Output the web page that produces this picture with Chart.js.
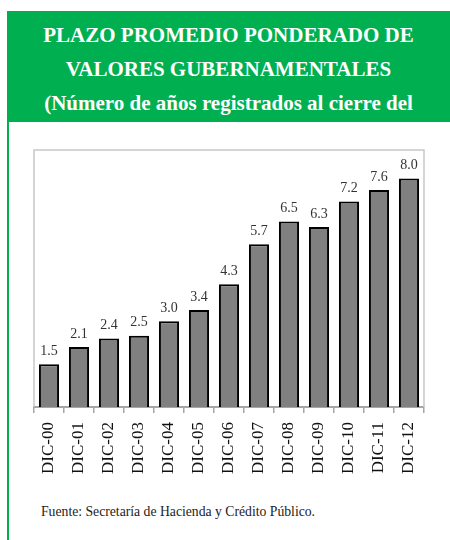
<!DOCTYPE html>
<html>
<head>
<meta charset="utf-8">
<script src="https://cdn.jsdelivr.net/npm/chart.js@4"></script>
<style>
  html, body { margin: 0; padding: 0; background: #fff; }
  body { width: 450px; height: 540px; position: relative; overflow: hidden; font-family: "Liberation Serif", serif; }
  #header {
    position: absolute; left: 7px; top: 11px; width: 443px; height: 111px;
    background: #00b050; color: #fff; font-weight: bold; font-size: 21px;
    font-family: "Liberation Serif", "DejaVu Serif", serif;
    text-align: center; line-height: 34px; padding-top: 7px; box-sizing: border-box;
  }
  #leftLine { position: absolute; left: 7px; top: 122px; width: 2px; height: 418px; background: #00b050; }
  #wrap { position: absolute; left: 0; top: 130px; width: 450px; height: 353px; }
  #source { position: absolute; left: 41px; top: 504px; font-size: 13.7px; color: #222; }
</style>
</head>
<body>
<div id="header">PLAZO PROMEDIO PONDERADO DE<br>VALORES GUBERNAMENTALES<br>(Número de años registrados al cierre del</div>
<div id="leftLine"></div>
<div id="wrap"><canvas id="chart"></canvas></div>
<div id="source">Fuente: Secretaría de Hacienda y Crédito Público.</div>
<script>
const categories = ['DIC-00', 'DIC-01', 'DIC-02', 'DIC-03', 'DIC-04', 'DIC-05', 'DIC-06',
  'DIC-07', 'DIC-08', 'DIC-09', 'DIC-10', 'DIC-11', 'DIC-12'];
const plazoAnios = [1.5, 2.1, 2.4, 2.5, 3.0, 3.4, 4.3, 5.7, 6.5, 6.3, 7.2, 7.6, 8.0];

// frame around the plot area
const boxPlugin = {
  id: 'box',
  beforeDatasetsDraw(chart) {
    const { ctx, chartArea: a } = chart;
    ctx.save();
    ctx.strokeStyle = '#c8c8c8';
    ctx.lineWidth = 1.5;
    ctx.beginPath();
    ctx.moveTo(a.left, a.bottom);
    ctx.lineTo(a.left, a.top);
    ctx.lineTo(a.right, a.top);
    ctx.lineTo(a.right, a.bottom);
    ctx.stroke();
    ctx.restore();
  }
};

// value labels over the bars
const valueLabels = {
  id: 'valueLabels',
  afterDatasetsDraw(chart) {
    const { ctx } = chart;
    const meta = chart.getDatasetMeta(0);
    ctx.save();
    ctx.font = '14px "Liberation Serif"';
    ctx.fillStyle = '#333';
    ctx.textAlign = 'center';
    ctx.textBaseline = 'bottom';
    meta.data.forEach((bar, i) => {
      ctx.fillText(plazoAnios[i].toFixed(1), bar.x, bar.y - 6);
    });
    ctx.restore();
  }
};

new Chart(document.getElementById('chart'), {
  type: 'bar',
  data: {
    labels: categories,
    datasets: [{
      data: plazoAnios,
      backgroundColor: '#808080',
      borderColor: '#000',
      borderWidth: 2,
      borderSkipped: 'bottom',
      categoryPercentage: 1,
      barPercentage: 0.67
    }]
  },
  options: {
    responsive: true,
    maintainAspectRatio: false,
    animation: false,
    layout: { padding: { left: 34, right: 26, top: 20, bottom: 0 } },
    plugins: { legend: { display: false }, tooltip: { enabled: false } },
    scales: {
      x: {
        grid: { drawOnChartArea: false, color: '#a6a6a6', tickLength: 6, lineWidth: 1.5 },
        border: { color: '#a6a6a6', width: 2 },
        ticks: {
          minRotation: 90, maxRotation: 90, padding: 9,
          color: '#111',
          font: { family: 'Liberation Serif', size: 17 }
        }
      },
      y: {
        display: false,
        min: 0,
        max: 9
      }
    }
  },
  plugins: [boxPlugin, valueLabels]
});
</script>
</body>
</html>
